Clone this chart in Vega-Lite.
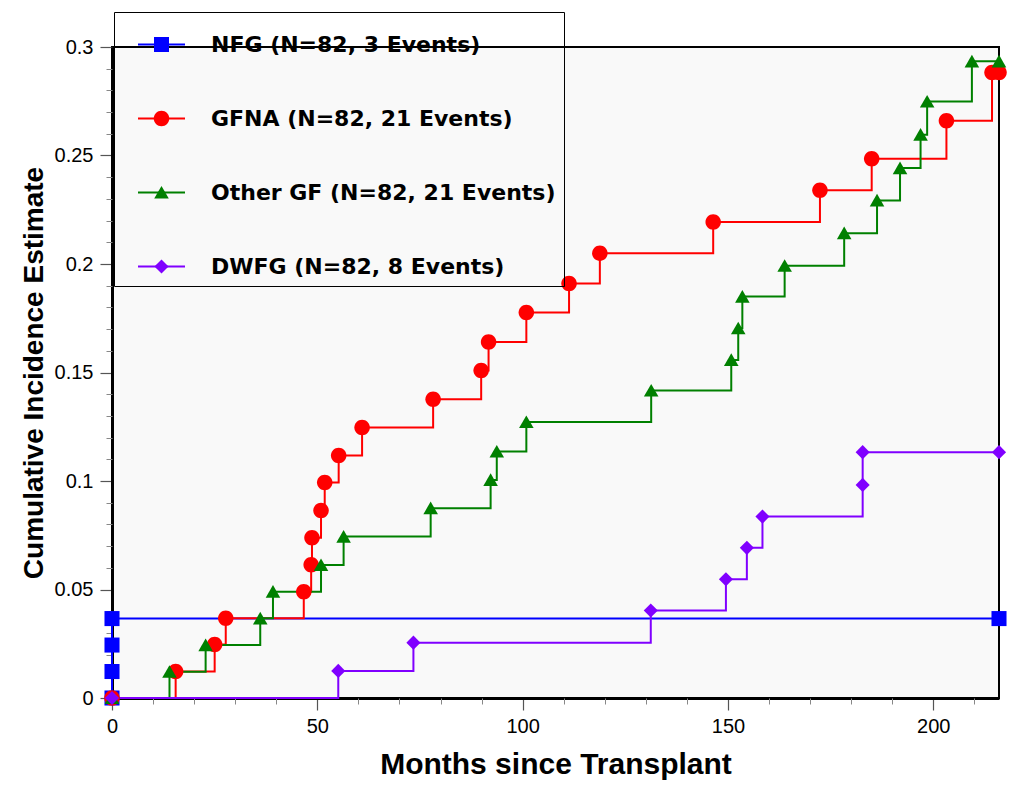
{
  "$schema": "https://vega.github.io/schema/vega-lite/v6.json",
  "width": 887,
  "height": 651,
  "autosize": {"type": "none"},
  "padding": {"left": 112, "top": 47, "right": 19, "bottom": 87},
  "background": "white",
  "config": {
    "view": {"stroke": "black", "strokeWidth": 2, "fill": "#f9f9f9"},
    "font": "Liberation Sans"
  },
  "data": {
    "values": [
      {"g": "NFG (N=82, 3 Events)", "t": 0, "y": 0},
      {"g": "NFG (N=82, 3 Events)", "t": 0, "y": 0.0122},
      {"g": "NFG (N=82, 3 Events)", "t": 0, "y": 0.0244},
      {"g": "NFG (N=82, 3 Events)", "t": 0, "y": 0.0366},
      {"g": "NFG (N=82, 3 Events)", "t": 216, "y": 0.0366},

      {"g": "GFNA (N=82, 21 Events)", "t": 0, "y": 0},
      {"g": "GFNA (N=82, 21 Events)", "t": 15.5, "y": 0.0122},
      {"g": "GFNA (N=82, 21 Events)", "t": 25, "y": 0.0246},
      {"g": "GFNA (N=82, 21 Events)", "t": 27.7, "y": 0.0367},
      {"g": "GFNA (N=82, 21 Events)", "t": 46.7, "y": 0.049},
      {"g": "GFNA (N=82, 21 Events)", "t": 48.5, "y": 0.0614},
      {"g": "GFNA (N=82, 21 Events)", "t": 48.7, "y": 0.0739},
      {"g": "GFNA (N=82, 21 Events)", "t": 50.9, "y": 0.0864},
      {"g": "GFNA (N=82, 21 Events)", "t": 51.8, "y": 0.0993},
      {"g": "GFNA (N=82, 21 Events)", "t": 55.2, "y": 0.1117},
      {"g": "GFNA (N=82, 21 Events)", "t": 60.9, "y": 0.1246},
      {"g": "GFNA (N=82, 21 Events)", "t": 78.2, "y": 0.1377},
      {"g": "GFNA (N=82, 21 Events)", "t": 89.9, "y": 0.1509},
      {"g": "GFNA (N=82, 21 Events)", "t": 91.7, "y": 0.1641},
      {"g": "GFNA (N=82, 21 Events)", "t": 100.9, "y": 0.1776},
      {"g": "GFNA (N=82, 21 Events)", "t": 111.3, "y": 0.191},
      {"g": "GFNA (N=82, 21 Events)", "t": 118.8, "y": 0.205},
      {"g": "GFNA (N=82, 21 Events)", "t": 146.4, "y": 0.2193},
      {"g": "GFNA (N=82, 21 Events)", "t": 172.4, "y": 0.234},
      {"g": "GFNA (N=82, 21 Events)", "t": 185, "y": 0.2485},
      {"g": "GFNA (N=82, 21 Events)", "t": 203.2, "y": 0.266},
      {"g": "GFNA (N=82, 21 Events)", "t": 214.3, "y": 0.2883},
      {"g": "GFNA (N=82, 21 Events)", "t": 216, "y": 0.2883},

      {"g": "Other GF (N=82, 21 Events)", "t": 0, "y": 0},
      {"g": "Other GF (N=82, 21 Events)", "t": 14.0, "y": 0.0121},
      {"g": "Other GF (N=82, 21 Events)", "t": 22.8, "y": 0.0244},
      {"g": "Other GF (N=82, 21 Events)", "t": 36.1, "y": 0.0367},
      {"g": "Other GF (N=82, 21 Events)", "t": 39.2, "y": 0.049},
      {"g": "Other GF (N=82, 21 Events)", "t": 50.9, "y": 0.0613},
      {"g": "Other GF (N=82, 21 Events)", "t": 56.4, "y": 0.0744},
      {"g": "Other GF (N=82, 21 Events)", "t": 77.6, "y": 0.0875},
      {"g": "Other GF (N=82, 21 Events)", "t": 92.2, "y": 0.1005},
      {"g": "Other GF (N=82, 21 Events)", "t": 93.7, "y": 0.1136},
      {"g": "Other GF (N=82, 21 Events)", "t": 100.9, "y": 0.1272},
      {"g": "Other GF (N=82, 21 Events)", "t": 131.3, "y": 0.1417},
      {"g": "Other GF (N=82, 21 Events)", "t": 150.8, "y": 0.1558},
      {"g": "Other GF (N=82, 21 Events)", "t": 152.5, "y": 0.1704},
      {"g": "Other GF (N=82, 21 Events)", "t": 153.5, "y": 0.185},
      {"g": "Other GF (N=82, 21 Events)", "t": 163.8, "y": 0.1992},
      {"g": "Other GF (N=82, 21 Events)", "t": 178.3, "y": 0.2142},
      {"g": "Other GF (N=82, 21 Events)", "t": 186.3, "y": 0.2293},
      {"g": "Other GF (N=82, 21 Events)", "t": 191.9, "y": 0.2442},
      {"g": "Other GF (N=82, 21 Events)", "t": 196.9, "y": 0.2596},
      {"g": "Other GF (N=82, 21 Events)", "t": 198.5, "y": 0.2749},
      {"g": "Other GF (N=82, 21 Events)", "t": 209.4, "y": 0.2934},
      {"g": "Other GF (N=82, 21 Events)", "t": 216, "y": 0.2934},

      {"g": "DWFG (N=82, 8 Events)", "t": 0, "y": 0},
      {"g": "DWFG (N=82, 8 Events)", "t": 55.1, "y": 0.0125},
      {"g": "DWFG (N=82, 8 Events)", "t": 73.4, "y": 0.0255},
      {"g": "DWFG (N=82, 8 Events)", "t": 131.2, "y": 0.0403},
      {"g": "DWFG (N=82, 8 Events)", "t": 149.5, "y": 0.0547},
      {"g": "DWFG (N=82, 8 Events)", "t": 154.6, "y": 0.0692},
      {"g": "DWFG (N=82, 8 Events)", "t": 158.4, "y": 0.0836},
      {"g": "DWFG (N=82, 8 Events)", "t": 182.8, "y": 0.0982},
      {"g": "DWFG (N=82, 8 Events)", "t": 182.8, "y": 0.1133},
      {"g": "DWFG (N=82, 8 Events)", "t": 216, "y": 0.1133}
    ]
  },
  "layer": [
    {
      "mark": {"type": "line", "interpolate": "step-after", "strokeWidth": 2},
      "encoding": {
        "x": {
          "field": "t", "type": "quantitative",
          "scale": {"domain": [0, 216], "nice": false, "zero": false},
          "axis": {
            "values": [0, 50, 100, 150, 200],
            "tickSize": 12, "tickColor": "#555", "tickWidth": 1.2,
            "domainColor": "black", "domainWidth": 3,
            "labelFontSize": 20, "labelColor": "black", "labelPadding": 6,
            "labelFlush": false, "labelOverlap": false,
            "grid": false,
            "title": "Months since Transplant",
            "titleFontSize": 30, "titleFontWeight": "bold", "titleColor": "black",
            "titlePadding": 13
          }
        },
        "y": {
          "field": "y", "type": "quantitative",
          "scale": {"domain": [0, 0.3], "nice": false, "zero": false},
          "axis": {
            "values": [0, 0.05, 0.1, 0.15, 0.2, 0.25, 0.3],
            "format": "~g",
            "tickSize": 12, "tickColor": "#555", "tickWidth": 1.2,
            "domainColor": "black", "domainWidth": 3,
            "labelFontSize": 20, "labelColor": "black", "labelPadding": 7,
            "labelFlush": false, "labelOverlap": false,
            "grid": false,
            "title": "Cumulative Incidence Estimate",
            "titleFontSize": 28, "titleFontWeight": "bold", "titleColor": "black",
            "titlePadding": 6
          }
        },
        "stroke": {
          "field": "g", "type": "nominal",
          "scale": {
            "domain": ["NFG (N=82, 3 Events)", "GFNA (N=82, 21 Events)", "Other GF (N=82, 21 Events)", "DWFG (N=82, 8 Events)"],
            "range": ["#0000ff", "#ff0000", "#008000", "#8000ff"]
          },
          "legend": {
            "title": null,
            "orient": "none",
            "legendX": 2,
            "legendY": -35,
            "strokeColor": "black",
            "padding": 8,
            "symbolOffset": 15,
            "symbolSize": 2209,
            "symbolType": "stroke",
            "symbolStrokeWidth": 2,
            "labelOffset": 25,
            "rowPadding": 38,
            "labelFont": "DejaVu Sans",
            "labelFontSize": 22,
            "labelFontWeight": "bold",
            "labelColor": "black",
            "labelLimit": 0
          }
        },
        "order": [{"field": "t", "type": "quantitative"}, {"field": "y", "type": "quantitative"}]
      }
    },
    {
      "mark": {"type": "point", "filled": true, "opacity": 1, "size": 2209},
      "encoding": {
        "x": {
          "field": "t", "type": "quantitative",
          "axis": {
            "orient": "bottom",
            "values": [0, 10, 20, 30, 40, 60, 70, 80, 90, 110, 120, 130, 140, 160, 170, 180, 190, 210],
            "tickSize": 6, "tickColor": "#888", "tickWidth": 1,
            "labels": false, "domain": false, "grid": false, "title": null
          }
        },
        "y": {
          "field": "y", "type": "quantitative",
          "axis": {
            "orient": "left",
            "values": [0.01, 0.02, 0.03, 0.04, 0.06, 0.07, 0.08, 0.09, 0.11, 0.12, 0.13, 0.14, 0.16, 0.17, 0.18, 0.19, 0.21, 0.22, 0.23, 0.24, 0.26, 0.27, 0.28, 0.29],
            "tickSize": 6, "tickColor": "#888", "tickWidth": 1,
            "labels": false, "domain": false, "grid": false, "title": null
          }
        },
        "color": {
          "field": "g", "type": "nominal",
          "scale": {
            "domain": ["NFG (N=82, 3 Events)", "GFNA (N=82, 21 Events)", "Other GF (N=82, 21 Events)", "DWFG (N=82, 8 Events)"],
            "range": ["#0000ff", "#ff0000", "#008000", "#8000ff"]
          },
          "legend": {
            "title": null,
            "orient": "top-left",
            "offset": -35,
            "padding": 8,
            "symbolOffset": 52,
            "symbolSize": 2209,
            "labelOffset": 25,
            "rowPadding": 38,
            "labelFont": "DejaVu Sans",
            "labelFontSize": 22,
            "labelFontWeight": "bold",
            "labelColor": "transparent",
            "labelLimit": 0
          }
        },
        "shape": {
          "field": "g", "type": "nominal",
          "scale": {
            "domain": ["NFG (N=82, 3 Events)", "GFNA (N=82, 21 Events)", "Other GF (N=82, 21 Events)", "DWFG (N=82, 8 Events)"],
            "range": [
              "M-0.32,-0.32H0.32V0.32H-0.32Z",
              "M-0.33,0A0.33,0.33 0 1,1 0.33,0A0.33,0.33 0 1,1 -0.33,0Z",
              "M0,-0.28L0.31,0.26L-0.31,0.26Z",
              "M-0.3,0L0,-0.3L0.3,0L0,0.3Z"
            ]
          },
          "legend": {
            "title": null,
            "orient": "top-left",
            "offset": -35,
            "padding": 8,
            "symbolOffset": 52,
            "symbolSize": 2209,
            "symbolOpacity": 0,
            "labelOffset": 25,
            "rowPadding": 38,
            "labelFont": "DejaVu Sans",
            "labelFontSize": 1,
            "labelFontWeight": "bold",
            "labelColor": "transparent",
            "labelLimit": 0
          }
        }
      }
    }
  ],
  "resolve": {"axis": {"x": "independent", "y": "independent"}}
}
